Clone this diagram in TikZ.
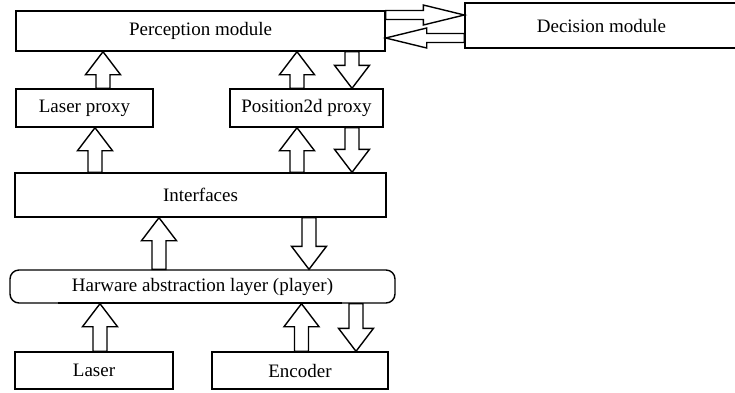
\documentclass[tikz,border=0pt]{standalone}
\usepackage{fontspec}
\setmainfont{Liberation Serif}
\usepackage{tikz}
\usetikzlibrary{calc, positioning}

% hollow block arrow from #1 to #2 (tip at #2)
\def\shaftw{7pt}
\def\headw{17.5pt}
\def\headl{23pt}
\newcommand{\fatarrow}[2]{%
    \coordinate (fa-b) at ($(#2)!\headl!(#1)$);
    \draw[fat] ($(#1)!\shaftw!90:(#2)$) -- ($(fa-b)!\shaftw!-90:(#1)$)
        -- ($(fa-b)!\headw!-90:(#1)$) -- (#2) -- ($(fa-b)!\headw!90:(#1)$)
        -- ($(fa-b)!\shaftw!90:(#1)$) -- ($(#1)!\shaftw!-90:(#2)$) -- cycle;}
% vertical one at a given x
\newcommand{\vfat}[3]{%
    \coordinate (fx) at (#1,0);
    \fatarrow{fx |- #2}{fx |- #3}}
% horizontal one at a given y
\newcommand{\hfat}[3]{%
    \coordinate (fy) at (0,#1);
    \fatarrow{fy -| #2}{fy -| #3}}

\begin{document}
\begin{tikzpicture}[
        x=1pt, y=-1pt,
        font=\fontsize{19}{22}\selectfont,
        box/.style={rectangle, draw=black, line width=1.4pt, inner sep=0pt, align=center},
        layer/.style={box, rounded corners=9pt},
        fat/.style={draw=black, line width=1.4pt, line join=miter}
    ]
    \useasboundingbox (0,0) rectangle (735,392);
    \clip (0,0) rectangle (735,392);

    % Nodes
    \node[box, minimum width=369pt, minimum height=40pt] (perc) at (200.5,31) {Perception module};
    \node[box, minimum width=273pt, minimum height=45pt] (dec) at (601.5,25.5) {Decision module};
    \node[box, minimum width=137pt, minimum height=38pt] (lp) at (84.5,108) {Laser proxy};
    \node[box, minimum width=153pt, minimum height=38pt] (pp) at (306.5,108) {Position2d proxy};
    \node[box, minimum width=371pt, minimum height=44pt] (intf) at (200.5,195) {Interfaces};
    \node[layer, minimum width=385pt, minimum height=33pt] (hal) at (202.5,286.5) {Harware abstraction layer (player)};
    \node[box, minimum width=158pt, minimum height=37pt] (las) at (94,370.5) {Laser};
    \node[box, minimum width=176pt, minimum height=37pt] (enc) at (300,370.5) {Encoder};

    % heavier bottom edge of the layer
    \draw[line width=2.6pt] ([xshift=-144.5pt, yshift=0.7pt]hal.south) -- ([xshift=139.5pt, yshift=0.7pt]hal.south);

    % Arrows
    \vfat{103}{lp.north}{perc.south}
    \vfat{297}{pp.north}{perc.south}
    \vfat{352}{perc.south}{pp.north}
    \vfat{95}{intf.north}{lp.south}
    \vfat{297}{intf.north}{pp.south}
    \vfat{352}{pp.south}{intf.north}
    \vfat{159}{hal.north}{intf.south}
    \vfat{309}{intf.south}{hal.north}
    \vfat{100}{las.north}{hal.south}
    \vfat{301.5}{enc.north}{hal.south}
    \vfat{356}{hal.south}{enc.north}

    % to and from the decision module
    \begin{scope}
        \def\shaftw{4.5pt}
        \def\headw{10pt}
        \def\headl{41pt}
        \hfat{15}{perc.east}{dec.west}
        \hfat{38}{dec.west}{perc.east}
    \end{scope}

\end{tikzpicture}
\end{document}
